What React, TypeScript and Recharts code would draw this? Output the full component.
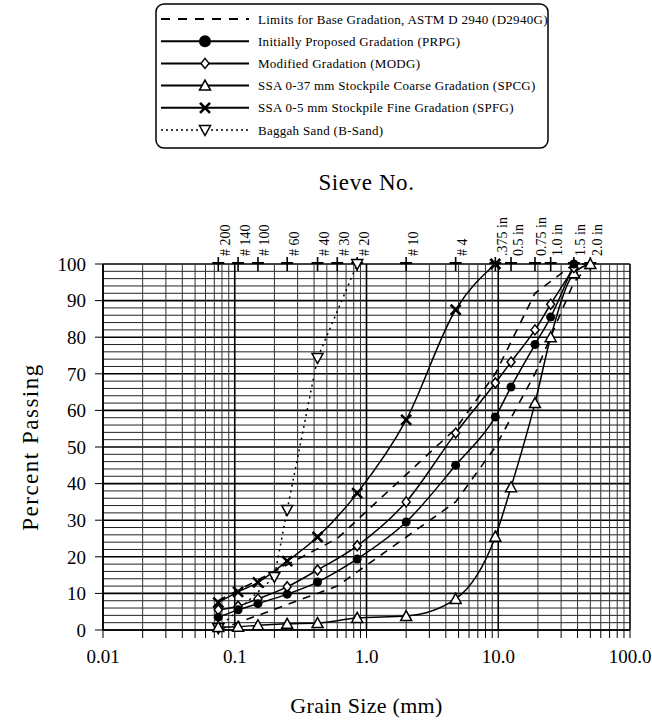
import React from "react";
import { ComposedChart, Line, XAxis, YAxis, CartesianGrid, Label } from "recharts";

const SERIF = '"Liberation Serif", "Times New Roman", serif';

// sieve openings (mm) for the aggregate gradations
const testSizes = [0.075, 0.106, 0.15, 0.25, 0.425, 0.85, 2.0, 4.75, 9.5, 12.5, 19, 25, 37.5];
const prpgPassing = [3.5, 5.5, 7.2, 9.8, 13.1, 19.4, 29.5, 45, 58.2, 66.4, 78, 85.5, 100];
const modgPassing = [5.5, 6.5, 8.5, 11.8, 16.4, 23, 35, 53.8, 67.5, 73.2, 82, 89, 99];

const spcgSizes = [0.075, 0.106, 0.15, 0.25, 0.425, 0.85, 2.0, 4.75, 9.5, 12.5, 19, 25, 37.5, 50];
const spcgPassing = [0.8, 0.9, 1.3, 1.7, 1.9, 3.3, 3.8, 8.5, 25.5, 39, 62, 80, 97.5, 100];

const spfgSizes = [0.075, 0.106, 0.15, 0.25, 0.425, 0.85, 2.0, 4.75, 9.5];
const spfgPassing = [7.5, 10.4, 13, 18.8, 25.4, 37.4, 57.4, 87.5, 100];

const sandSizes = [0.075, 0.2, 0.25, 0.425, 0.85];
const sandPassing = [0.5, 14.5, 32.8, 74.3, 100];

// ASTM D 2940 base gradation band
const limitSizes = [0.075, 0.6, 4.75, 9.5, 19, 37.5, 50];
const limitUpper = [8, 25, 55, 70, 92, 100, 100];
const limitLower = [0, 12, 35, 50, 70, 95, 100];

// top axis
const sieveSizes = [0.075, 0.106, 0.15, 0.25, 0.425, 0.6, 0.85, 2.0, 4.75, 9.5, 12.5, 19, 25, 37.5, 50];
const sieveNames = ["# 200", "# 140", "# 100", "# 60", "# 40", "# 30", "# 20", "# 10", "# 4",
  ".375 in", "0.5 in", "0.75 in", "1.0 in", "1.5 in", "2.0 in"];
const sieveRow = [100, 100, 100, 100, 100, 100, 100, 100, 100, 100, 100, 100, 100, 100, 100];

// log grid
const gridSizes = [
  0.01, 0.02, 0.03, 0.04, 0.05, 0.06, 0.07, 0.08, 0.09,
  0.1, 0.2, 0.3, 0.4, 0.5, 0.6, 0.7, 0.8, 0.9,
  1, 2, 3, 4, 5, 6, 7, 8, 9,
  10, 20, 30, 40, 50, 60, 70, 80, 90,
  100,
];
const decadeLabels: Record<number, string> = { 0.01: "0.01", 0.1: "0.1", 1: "1.0", 10: "10.0", 100: "100.0" };
const percentTicks = [0, 10, 20, 30, 40, 50, 60, 70, 80, 90, 100];
const percentGrid = [0, 2, 4, 6, 8, 10, 12, 14, 16, 18, 20, 22, 24, 26, 28, 30, 32, 34, 36, 38, 40,
  42, 44, 46, 48, 50, 52, 54, 56, 58, 60, 62, 64, 66, 68, 70, 72, 74, 76, 78, 80,
  82, 84, 86, 88, 90, 92, 94, 96, 98, 100];

const toRows = (sizes: number[], vals: number[]) => sizes.map((s, i) => ({ size: s, p: vals[i] }));

type MarkerKind = "circle" | "diamond" | "triangle" | "cross" | "down" | "plus" | "none";

function Marker({ kind, cx, cy, big }: { kind: MarkerKind; cx: number; cy: number; big?: boolean }) {
  if (kind === "circle") return <circle cx={cx} cy={cy} r={big ? 6 : 4.5} fill="#000" />;
  if (kind === "diamond")
    return (
      <polygon
        points={`${cx},${cy - 5} ${cx + 4},${cy} ${cx},${cy + 5} ${cx - 4},${cy}`}
        fill="#fff" stroke="#000" strokeWidth={1.5}
      />
    );
  if (kind === "triangle")
    return (
      <polygon
        points={`${cx},${cy - 5.5} ${cx + 5.5},${cy + 4.5} ${cx - 5.5},${cy + 4.5}`}
        fill="#fff" stroke="#000" strokeWidth={1.5}
      />
    );
  if (kind === "down")
    return (
      <polygon
        points={`${cx - 5.5},${cy - 4.5} ${cx + 5.5},${cy - 4.5} ${cx},${cy + 5.5}`}
        fill="#fff" stroke="#000" strokeWidth={1.5}
      />
    );
  if (kind === "cross")
    return (
      <g stroke="#000" strokeWidth={2.6}>
        <line x1={cx - 5} y1={cy - 5} x2={cx + 5} y2={cy + 5} />
        <line x1={cx - 5} y1={cy + 5} x2={cx + 5} y2={cy - 5} />
      </g>
    );
  if (kind === "plus")
    return (
      <g stroke="#000">
        <line x1={cx - 6} x2={cx + 6} y1={cy - 1} y2={cy - 1} strokeWidth={2} />
        <line x1={cx} x2={cx} y1={cy - 7} y2={cy + 7} strokeWidth={1.6} />
      </g>
    );
  return null;
}

const dotOf = (kind: MarkerKind) => (p: any) =>
  <g key={`${kind}-${p.index}`}><Marker kind={kind} cx={p.cx} cy={p.cy} /></g>;

function SieveTick(props: any) {
  const { x, y, payload } = props;
  const name = sieveNames[sieveSizes.indexOf(payload.value)];
  return (
    <text
      transform={`translate(${x + 7},${y - 8}) rotate(-90)`}
      fontSize={14} fontFamily={SERIF} dominantBaseline="central" fill="#000"
    >
      {name}
    </text>
  );
}

const hLine = (p: any) => (
  <line key={`h-${p.index}`} x1={p.x1} x2={p.x2} y1={p.y1} y2={p.y2}
    stroke={p.index % 5 === 0 ? "#000" : "#222"} strokeWidth={p.index % 5 === 0 ? 1.6 : 1} />
);
const vLine = (p: any) => (
  <line key={`v-${p.index}`} x1={p.x1} x2={p.x2} y1={p.y1} y2={p.y2}
    stroke={p.index % 9 === 0 ? "#000" : "#333"} strokeWidth={p.index % 9 === 0 ? 1.6 : 1} />
);

const legendItems: { name: string; kind: MarkerKind; dash?: string; width: number }[] = [
  { name: "Limits for Base Gradation, ASTM D 2940 (D2940G)", kind: "none", dash: "9 8", width: 1.8 },
  { name: "Initially Proposed Gradation (PRPG)", kind: "circle", width: 2 },
  { name: "Modified  Gradation (MODG)", kind: "diamond", width: 2 },
  { name: "SSA  0-37 mm Stockpile Coarse Gradation (SPCG)", kind: "triangle", width: 2 },
  { name: "SSA 0-5 mm Stockpile Fine Gradation (SPFG)", kind: "cross", width: 2 },
  { name: "Baggah Sand (B-Sand)", kind: "down", dash: "2 3", width: 1.5 },
];

function LegendBox() {
  return (
    <svg width={396} height={148} style={{ position: "absolute", left: 154, top: 2 }}>
      <rect x={2} y={2} width={392} height={144} rx={8} fill="#fff" stroke="#000" strokeWidth={1.5} />
      {legendItems.map((it, i) => {
        const y = 17 + i * 22.2;
        return (
          <g key={it.name}>
            <line x1={7} x2={95} y1={y} y2={y} stroke="#000" strokeWidth={it.width} strokeDasharray={it.dash} />
            <Marker kind={it.kind} cx={51} cy={y} big />
            <text x={104} y={y} dominantBaseline="central" fontSize={13} letterSpacing={0.28} fontFamily={SERIF}>
              {it.name}
            </text>
          </g>
        );
      })}
    </svg>
  );
}

export default function App() {
  const lineProps = { xAxisId: "bottom", dataKey: "p", isAnimationActive: false, stroke: "#000" } as const;
  return (
    <div style={{ position: "absolute", left: 0, top: 0, width: 652, height: 725, background: "#fff" }}>
      <ComposedChart width={652} height={725} margin={{ top: 204, right: 22, bottom: 55, left: 0 }}>
        <CartesianGrid
          xAxisId="bottom"
          horizontalValues={percentGrid}
          verticalValues={gridSizes}
          horizontal={hLine}
          vertical={vLine}
        />
        <XAxis
          xAxisId="bottom"
          type="number"
          dataKey="size"
          scale="log"
          domain={[0.01, 100]}
          allowDataOverflow
          ticks={gridSizes}
          interval={0}
          height={40}
          tickSize={8}
          tickMargin={12}
          tickFormatter={(v: number) => decadeLabels[v] ?? ""}
          tick={{ fontSize: 19, fontFamily: SERIF, fill: "#000" }}
          axisLine={{ stroke: "#000", strokeWidth: 1.5 }}
          tickLine={{ stroke: "#000" }}
        >
          <Label value="Grain Size (mm)" position="bottom" offset={27}
            style={{ fontSize: 22, fontFamily: SERIF, fill: "#000", letterSpacing: 0.3 }} />
        </XAxis>
        <XAxis
          xAxisId="top"
          orientation="top"
          type="number"
          dataKey="size"
          scale="log"
          domain={[0.01, 100]}
          allowDataOverflow
          ticks={sieveSizes}
          interval={0}
          height={60}
          tickSize={0}
          tickMargin={0}
          axisLine={false}
          tickLine={false}
          tick={<SieveTick />}
        >
          <Label value="Sieve No." position="top" offset={14}
            style={{ fontSize: 23, fontFamily: SERIF, fill: "#000", letterSpacing: 0.6 }} />
        </XAxis>
        <YAxis
          type="number"
          domain={[0, 100]}
          ticks={percentTicks}
          interval={0}
          width={103}
          tickSize={8}
          tickMargin={9}
          tick={{ fontSize: 19, fontFamily: SERIF, fill: "#000" }}
          axisLine={{ stroke: "#000", strokeWidth: 1.5 }}
          tickLine={{ stroke: "#000" }}
        >
          <Label
            content={(p: any) => {
              const vb = p.viewBox;
              const cx = vb.x + 30;
              const cy = vb.y + vb.height / 2;
              return (
                <text transform={`translate(${cx},${cy}) rotate(-90)`} textAnchor="middle"
                  dominantBaseline="central" fontSize={23} letterSpacing={1.5} fontFamily={SERIF} fill="#000">
                  Percent Passing
                </text>
              );
            }}
          />
        </YAxis>

        <Line xAxisId="top" dataKey="p" data={toRows(sieveSizes, sieveRow)} stroke="none"
          isAnimationActive={false} dot={dotOf("plus")} activeDot={false} />

        <Line {...lineProps} data={toRows(limitSizes, limitUpper)} type="linear" strokeWidth={1.6}
          strokeDasharray="8 7" dot={false} />
        <Line {...lineProps} data={toRows(limitSizes, limitLower)} type="linear" strokeWidth={1.6}
          strokeDasharray="8 7" dot={false} />
        <Line {...lineProps} data={toRows(sandSizes, sandPassing)} type="linear" strokeWidth={1.5}
          strokeDasharray="2 4" dot={dotOf("down")} />
        <Line {...lineProps} data={toRows(spcgSizes, spcgPassing)} type="monotone" strokeWidth={1.5}
          dot={dotOf("triangle")} />
        <Line {...lineProps} data={toRows(spfgSizes, spfgPassing)} type="monotone" strokeWidth={1.5}
          dot={dotOf("cross")} />
        <Line {...lineProps} data={toRows(testSizes, modgPassing)} type="monotone" strokeWidth={1.5}
          dot={dotOf("diamond")} />
        <Line {...lineProps} data={toRows(testSizes, prpgPassing)} type="monotone" strokeWidth={1.5}
          dot={dotOf("circle")} />
      </ComposedChart>
      <LegendBox />
    </div>
  );
}
